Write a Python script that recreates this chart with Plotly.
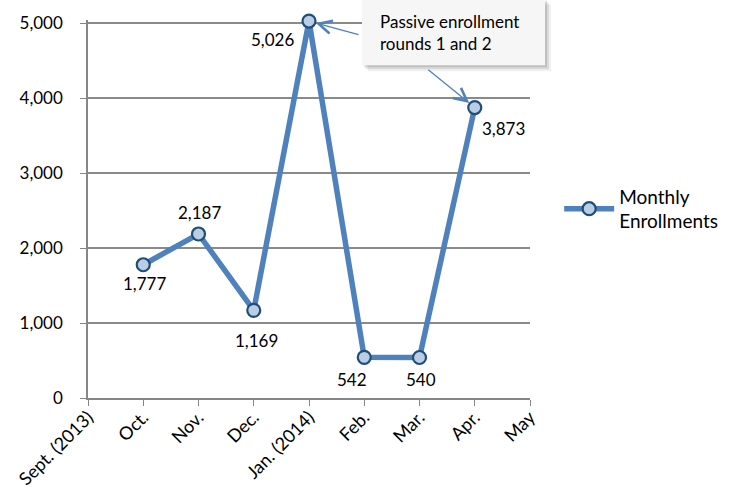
import plotly.graph_objects as go

months = ["Sept. (2013)", "Oct.", "Nov.", "Dec.", "Jan. (2014)", "Feb.", "Mar.", "Apr.", "May"]
enrollments = [None, 1777, 2187, 1169, 5026, 542, 540, 3873, None]
y_ticks = [0, 1000, 2000, 3000, 4000, 5000]
note_text = "Passive enrollment<br>rounds 1 and 2"
series_name = "Monthly<br>Enrollments"

# label offsets (px) for each data label: style only
label_dx = [0, 1, 1, 3, -37, -12, 1, 29, 0]
label_dy = [0, -19, 21, -30, -18, -22, -22, -21, 0]

FONT = "Lato, 'Open Sans', sans-serif"
BLUE = "#4f81bd"

fig = go.Figure()
fig.add_trace(go.Scatter(
    x=months, y=enrollments, mode="lines+markers",
    name=series_name,
    line=dict(color=BLUE, width=5.5),
    marker=dict(size=13, color="#b9cde5", line=dict(color="#1f4e79", width=2.2)),
    cliponaxis=False,
))

for m, v, dx, dy in zip(months, enrollments, label_dx, label_dy):
    if v is None:
        continue
    fig.add_annotation(x=m, y=v, text=f"{v:,}", showarrow=False,
                       xshift=dx, yshift=dy, xanchor="center", yanchor="middle",
                       font=dict(family=FONT, size=17, color="#000"))

# shadow + box for the note
for off, op in [(6, 0.06), (4, 0.09), (2, 0.12)]:
    fig.add_shape(type="rect", xref="paper", yref="paper",
                  x0=0.62 + off / 442, x1=1.034 + off / 442,
                  y0=0.88 - off / 378, y1=1.056 - off / 378,
                  line=dict(width=0), fillcolor=f"rgba(0,0,0,{op})", layer="above")
fig.add_shape(type="rect", xref="paper", yref="paper",
              x0=0.62, x1=1.034, y0=0.88, y1=1.056,
              line=dict(width=0), fillcolor="#f6f6f6", layer="above")
fig.add_annotation(xref="paper", yref="paper", x=0.655, y=0.968, xanchor="left", yanchor="middle",
                   text=note_text, showarrow=False, align="left",
                   font=dict(family=FONT, size=17, color="#000"))

# arrows
fig.add_annotation(x=months[4], y=enrollments[4], ax=51, ay=14, showarrow=True,
                   arrowhead=5, arrowsize=2.0, arrowwidth=1.3, arrowcolor=BLUE,
                   standoff=7, text="")
fig.add_annotation(x=months[7], y=enrollments[7], ax=-48, ay=-39, showarrow=True,
                   arrowhead=5, arrowsize=2.0, arrowwidth=1.3, arrowcolor=BLUE,
                   standoff=7, text="")

fig.update_layout(
    width=729, height=494,
    margin=dict(l=88, r=199, t=20, b=96, autoexpand=False),
    paper_bgcolor="white", plot_bgcolor="white",
    font=dict(family=FONT, size=17, color="#000"),
    showlegend=True,
    legend=dict(x=1.066, y=0.5, xanchor="left", yanchor="middle",
                itemwidth=50,
                font=dict(family=FONT, size=19, color="#000"),
                bgcolor="rgba(0,0,0,0)"),
    xaxis=dict(type="category", categoryorder="array", categoryarray=months,
               range=[0, 8], tickangle=-45, showgrid=False, automargin=False,
               showline=True, linecolor="#868686", linewidth=1.5,
               ticks="outside", ticklen=6, tickcolor="#868686", ticklabelstandoff=-6,
               tickfont=dict(family=FONT, size=18)),
    yaxis=dict(range=[0, 5040], tickvals=y_ticks, tickformat=",", automargin=False,
               showgrid=True, gridcolor="#8a8a8a", gridwidth=1.5,
               showline=True, linecolor="#868686", linewidth=1.5,
               ticks="outside", ticklen=6, tickcolor="#868686", ticklabelstandoff=14,
               zeroline=False, tickfont=dict(family=FONT, size=17)),
)

fig.write_html("out.html")
